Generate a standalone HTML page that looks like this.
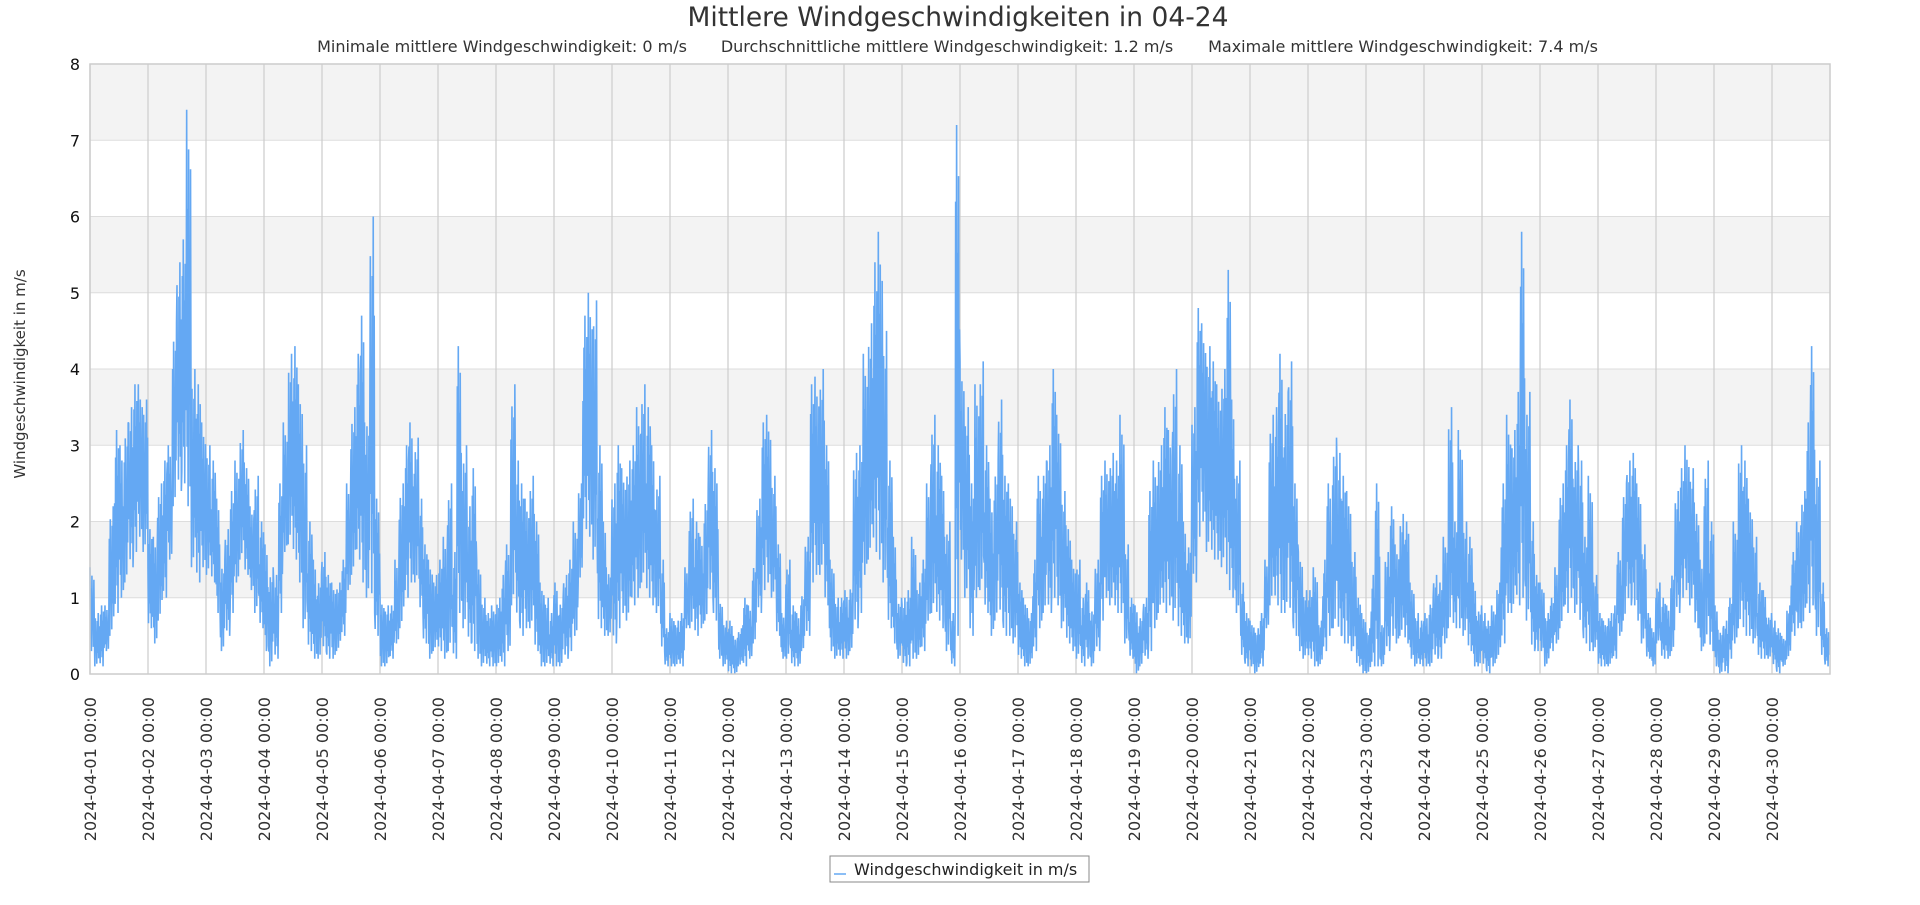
<!DOCTYPE html>
<html><head><meta charset="utf-8"><style>
html,body{margin:0;padding:0;background:#fff;}
svg text{font-family:"DejaVu Sans","Liberation Sans",sans-serif;}
</style></head><body>
<svg id="chart" width="1920" height="900" viewBox="0 0 1920 900" xmlns="http://www.w3.org/2000/svg">
<text x="958" y="26" font-size="26.5" fill="#333" text-anchor="middle">Mittlere Windgeschwindigkeiten in 04-24</text>
<text x="502" y="52" font-size="16" fill="#333" text-anchor="middle">Minimale mittlere Windgeschwindigkeit: 0 m/s</text>
<text x="947" y="52" font-size="16" fill="#333" text-anchor="middle">Durchschnittliche mittlere Windgeschwindigkeit: 1.2 m/s</text>
<text x="1403" y="52" font-size="16" fill="#333" text-anchor="middle">Maximale mittlere Windgeschwindigkeit: 7.4 m/s</text>
<g id="bands"></g>
<g id="grid"></g>
<g id="series"></g>
<rect x="90" y="64" width="1740" height="610" fill="none" stroke="#ccc" stroke-width="1.5"/>
<g id="yticks"></g>
<g id="xticks"></g>
<text transform="translate(25,374) rotate(-90)" font-size="15" fill="#333" text-anchor="middle">Windgeschwindigkeit in m/s</text>
<g>
<rect x="830" y="856" width="259" height="26" fill="#fff" stroke="#888" stroke-width="1"/>
<line x1="834" y1="874" x2="846" y2="874" stroke="#64a8f3" stroke-width="1.5"/>
<text x="854" y="875" font-size="16" fill="#222">Windgeschwindigkeit in m/s</text>
</g>
</svg>
<script>
const yTicks=[0,1,2,3,4,5,6,7,8];
const dayLabels=["2024-04-01 00:00","2024-04-02 00:00","2024-04-03 00:00","2024-04-04 00:00","2024-04-05 00:00","2024-04-06 00:00","2024-04-07 00:00","2024-04-08 00:00","2024-04-09 00:00","2024-04-10 00:00","2024-04-11 00:00","2024-04-12 00:00","2024-04-13 00:00","2024-04-14 00:00","2024-04-15 00:00","2024-04-16 00:00","2024-04-17 00:00","2024-04-18 00:00","2024-04-19 00:00","2024-04-20 00:00","2024-04-21 00:00","2024-04-22 00:00","2024-04-23 00:00","2024-04-24 00:00","2024-04-25 00:00","2024-04-26 00:00","2024-04-27 00:00","2024-04-28 00:00","2024-04-29 00:00","2024-04-30 00:00"];
// 2-hour slot upper envelope (m/s), 12 per day
const windHigh=[
1.4,0.8,0.9,0.9,2.2,3.2,3.0,3.3,3.5,3.8,3.8,3.6,
1.9,1.8,2.5,2.8,3.0,4.6,5.4,5.7,7.4,4.0,3.8,3.3,
3.0,2.8,2.3,1.5,1.9,2.4,2.8,3.2,2.7,2.2,2.6,2.0,
1.7,1.4,1.3,2.5,3.3,4.2,4.3,3.8,3.0,2.0,1.5,1.3,
1.6,1.3,1.2,1.2,1.5,2.5,3.5,4.2,4.7,3.5,6.0,2.3,
1.0,0.9,0.9,1.5,2.5,3.0,3.3,3.1,2.3,1.7,1.5,1.3,
1.5,1.8,2.5,1.6,4.3,3.0,2.2,2.7,1.5,1.0,0.8,0.9,
1.0,1.3,1.7,3.8,2.8,2.5,2.3,2.6,2.0,1.2,1.0,0.8,
1.2,1.0,1.3,1.5,2.0,2.5,4.7,5.0,4.9,3.0,2.0,1.4,
2.5,3.0,2.7,2.8,3.0,3.5,3.8,3.5,3.0,2.6,1.5,0.6,
0.8,0.7,0.8,1.4,2.3,2.0,1.8,2.4,3.2,2.7,1.0,0.7,
0.7,0.5,0.6,1.0,0.9,1.5,2.3,3.3,3.4,2.6,1.7,0.8,
1.5,0.9,0.8,1.1,1.8,3.8,3.9,4.0,3.0,1.5,1.0,1.0,
1.1,1.2,2.9,3.0,4.2,4.6,5.4,5.8,4.5,2.8,1.8,1.0,
1.0,1.1,1.8,1.2,1.5,2.5,3.4,3.0,2.6,2.0,0.8,7.2,
4.1,3.5,2.5,3.8,4.1,3.0,2.3,2.8,3.6,2.6,2.5,2.0,
1.2,1.0,0.8,1.5,2.6,2.8,3.0,4.0,3.4,2.4,1.9,1.5,
1.5,1.0,1.2,0.9,1.5,2.6,2.8,2.9,2.8,3.4,1.7,1.0,
0.9,0.8,1.0,2.4,2.8,3.0,3.5,3.2,4.0,3.0,2.0,1.8,
3.5,4.8,4.6,4.3,4.1,3.8,4.0,5.3,3.6,2.8,1.2,0.8,
0.7,0.6,0.8,1.5,3.4,3.5,4.2,3.7,4.1,2.5,1.6,1.1,
1.1,1.4,0.7,1.5,2.5,3.1,2.9,2.6,2.4,1.6,1.0,0.8,
0.6,1.3,2.5,0.7,1.6,2.2,1.7,2.1,2.0,1.2,0.8,0.7,
0.8,1.0,1.3,1.2,1.8,3.5,2.0,3.2,2.0,1.8,1.2,0.9,
0.8,0.7,0.9,1.2,2.5,3.4,3.2,3.7,5.8,3.7,2.0,1.3,
1.2,0.8,1.0,1.4,2.5,3.0,3.6,3.0,2.8,1.8,2.6,1.3,
0.8,0.7,0.8,0.9,1.6,2.5,2.8,2.9,2.5,1.7,0.8,0.6,
1.2,1.0,0.9,1.4,2.4,2.7,3.0,2.7,2.1,1.5,2.8,2.0,
0.9,0.6,0.7,1.0,2.0,3.0,2.8,2.3,1.8,1.2,1.1,0.8,
0.7,0.6,0.5,0.9,1.6,2.0,2.4,3.3,4.3,2.8,1.2,0.6];
// 2-hour slot lower envelope (m/s)
const windLow=[
0.3,0.1,0.1,0.3,0.5,0.8,1.0,1.2,1.4,1.6,1.8,1.6,
0.6,0.4,0.7,1.0,1.5,2.2,2.4,2.5,2.2,1.4,1.2,1.4,
1.3,1.2,0.8,0.3,0.5,0.8,1.2,1.5,1.3,1.1,0.8,0.6,
0.3,0.1,0.2,0.8,1.6,1.7,1.5,1.2,0.6,0.3,0.2,0.2,
0.3,0.2,0.2,0.3,0.5,1.1,1.3,1.5,1.2,1.0,0.8,0.5,
0.1,0.1,0.2,0.4,0.6,1.0,1.2,1.2,0.8,0.4,0.2,0.3,
0.3,0.2,0.3,0.2,0.8,0.6,0.4,0.3,0.2,0.1,0.1,0.1,
0.1,0.1,0.3,0.9,0.7,0.5,0.6,0.6,0.3,0.1,0.1,0.1,
0.1,0.1,0.2,0.3,0.5,1.2,1.9,1.8,1.5,0.6,0.5,0.5,
0.4,0.6,0.8,0.7,0.9,1.0,1.2,1.0,0.9,0.8,0.3,0.1,
0.1,0.1,0.1,0.6,0.6,0.5,0.6,0.7,1.0,0.7,0.2,0.1,
0.0,0.0,0.1,0.1,0.2,0.4,0.8,1.1,1.2,1.0,0.5,0.2,
0.2,0.1,0.1,0.3,0.5,1.2,1.3,1.3,0.9,0.3,0.2,0.2,
0.2,0.3,0.6,0.8,1.3,1.5,1.6,1.5,1.2,0.6,0.4,0.2,
0.1,0.1,0.2,0.2,0.3,0.7,0.8,0.7,0.6,0.3,0.1,0.5,
1.5,1.0,0.5,1.0,1.1,0.8,0.5,0.7,0.7,0.5,0.5,0.4,
0.2,0.1,0.1,0.3,0.6,0.8,0.8,1.0,0.9,0.6,0.4,0.3,
0.2,0.1,0.2,0.1,0.3,0.7,1.0,0.9,0.8,0.8,0.4,0.2,
0.0,0.1,0.2,0.3,0.6,0.8,0.8,0.9,0.7,0.5,0.4,0.4,
1.2,1.8,2.0,1.6,1.5,1.5,1.4,1.1,1.0,0.8,0.2,0.1,
0.1,0.0,0.1,0.6,0.9,0.9,0.8,0.8,0.7,0.5,0.3,0.2,
0.2,0.1,0.1,0.3,0.5,0.6,0.5,0.4,0.4,0.3,0.1,0.0,
0.0,0.1,0.1,0.1,0.3,0.5,0.4,0.5,0.4,0.2,0.1,0.1,
0.1,0.1,0.2,0.2,0.4,0.6,0.6,0.6,0.5,0.3,0.1,0.1,
0.1,0.0,0.1,0.2,0.4,0.8,0.8,0.9,1.0,0.7,0.3,0.3,
0.3,0.1,0.3,0.4,0.6,0.8,1.0,0.8,0.6,0.4,0.3,0.3,
0.1,0.1,0.1,0.2,0.5,0.7,0.9,0.9,0.7,0.4,0.2,0.1,
0.4,0.2,0.2,0.3,0.8,1.0,1.1,0.9,0.6,0.3,0.4,0.3,
0.1,0.0,0.0,0.2,0.4,0.6,0.5,0.5,0.4,0.2,0.2,0.2,
0.1,0.0,0.1,0.2,0.5,0.6,0.6,0.8,0.9,0.5,0.2,0.1];

const NS='http://www.w3.org/2000/svg';
const L=90,R=1830,T=64,B=674,DAYS=30,YMAX=8;
// visual texture: relative positions within each slot's [low, high] range
const zigPattern=[1,0.15,0.75,0,0.9,0.3,0.6,0.05,0.85,0.25];
const xHour=h=>L+(R-L)*h/(DAYS*24);
const xDay=d=>xHour(d*24);
const yVal=v=>B-(B-T)*v/YMAX;
function mk(tag,attrs,parent){const e=document.createElementNS(NS,tag);for(const k in attrs)e.setAttribute(k,attrs[k]);parent.appendChild(e);return e;}

const bands=document.getElementById('bands');
for(let i=1;i<yTicks.length-1;i+=2){
  const r=mk('rect',{x:L,y:yVal(yTicks[i+1]),width:R-L,height:yVal(yTicks[i])-yVal(yTicks[i+1]),fill:'#f3f3f3'},bands);
  
  
}
const grid=document.getElementById('grid');
const yt=document.getElementById('yticks');
yTicks.forEach(v=>{
  const l=mk('line',{x1:L,x2:R,y1:yVal(v),y2:yVal(v),stroke:'#dddddd','stroke-width':1},grid);
  
  
  const t=mk('text',{x:80,y:yVal(v)+6,'font-size':16,fill:'#111','text-anchor':'end'},yt);
  
  
  t.textContent=v;
});
const xt=document.getElementById('xticks');
dayLabels.forEach((lab,d)=>{
  const l=mk('line',{x1:xDay(d),x2:xDay(d),y1:T,y2:B,stroke:'#cccccc','stroke-width':1.2},grid);
  
  
  const t=mk('text',{transform:`translate(${xDay(d)+6},697) rotate(-90)`,'font-size':16,fill:'#333','text-anchor':'end'},xt);
  
  
  t.textContent=lab;
});
const pts=[];
const SUB=zigPattern.length;
for(let k=0;k<windHigh.length;k++){
  const hi=windHigh[k],lo=windLow[k];
  for(let j=0;j<SUB;j++){
    const f=zigPattern[(j+k*3)%SUB];
    const v=lo+f*(hi-lo);
    pts.push(xHour(k*2+j*2/SUB).toFixed(2)+','+yVal(v).toFixed(1));
  }
}
const pl=mk('polyline',{points:pts.join(' '),fill:'none',stroke:'#64a8f3','stroke-width':1.6,'stroke-linejoin':'bevel'},document.getElementById('series'));


</script>
</body></html>
